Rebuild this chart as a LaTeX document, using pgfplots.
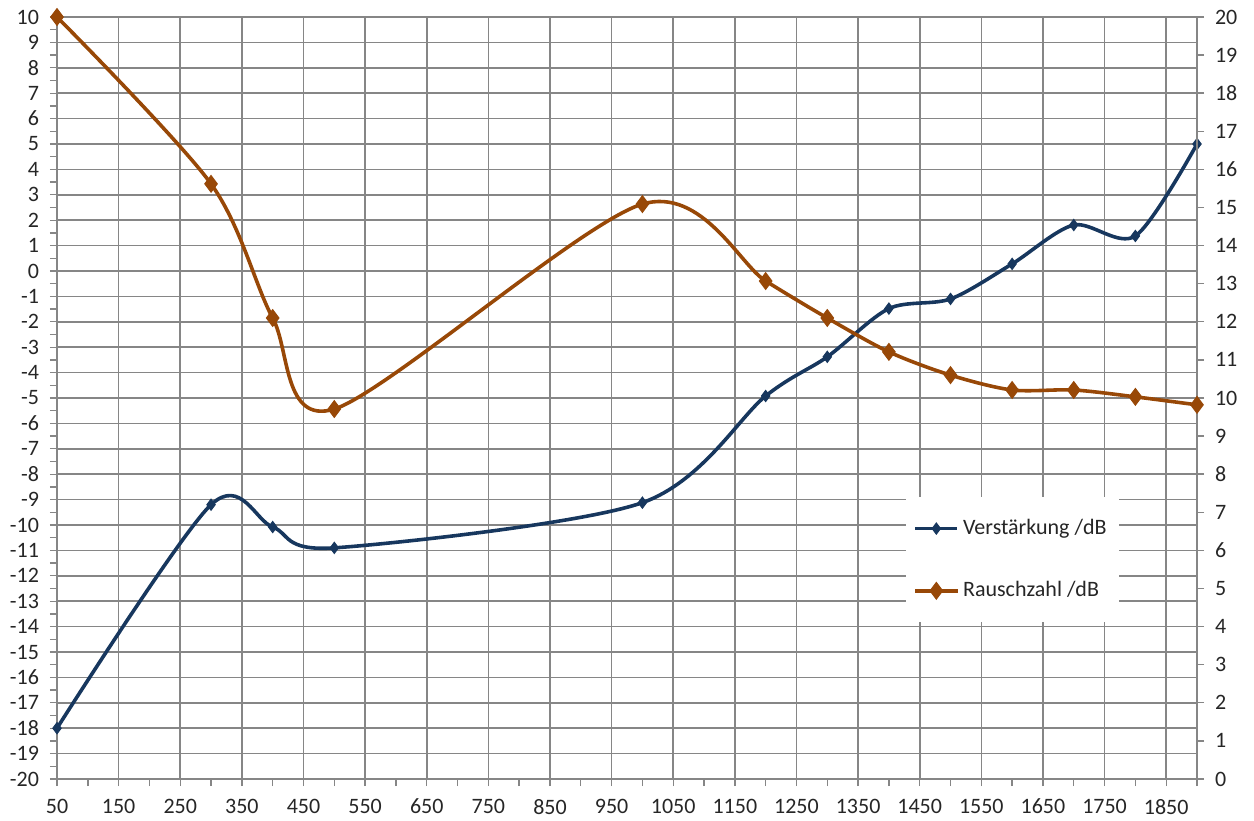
\documentclass[border=0pt]{standalone}
\usepackage{pgfplots}
\pgfplotsset{compat=1.18}
\usepackage{fontspec}
\setmainfont{Carlito}
\definecolor{navy}{HTML}{17375E}
\definecolor{rust}{HTML}{984807}
\definecolor{gridgray}{RGB}{134,134,134}
\begin{document}
\begin{tikzpicture}
\pgfplotsset{
  base/.style={
    scale only axis,
    width=570bp, height=381bp,
    xmin=50, xmax=1900,
    tick align=outside,
    major tick length=3.5bp,
    minor tick length=3.5bp,
    tick style={gridgray, line width=0.7pt},
    axis line style={gridgray, line width=0.8pt},
    ticklabel style={font=\fontsize{11bp}{13bp}\selectfont, text=black!85},
    /pgf/number format/assume math mode=true,
    /pgf/number format/1000 sep={},
    clip=false,
  },
}
% Verstaerkung, left axis
\begin{axis}[base, name=ax,
  axis x line*=bottom, axis y line*=left,
  ymin=-20, ymax=10,
  xtick={50,150,...,1850},
  minor xtick={100,200,...,1900},
  ytick={-20,-19,...,10},
  minor ytick={-19.5,-18.5,...,9.5},
  grid=major,
  major grid style={gridgray, line width=0.8pt},
  xticklabel style={yshift=-3bp},
  yticklabel style={xshift=-2bp},
]
\addplot[navy, line width=1.8pt, smooth, tension=0.5,
  mark=diamond*, mark size=2.8pt, mark options={solid, fill=navy, line width=0.5pt}]
  coordinates {(50,-18) (300,-9.2) (400,-10.08) (500,-10.9) (1000,-9.12)
    (1200,-4.92) (1300,-3.38) (1400,-1.48) (1500,-1.1) (1600,0.28)
    (1700,1.81) (1800,1.38) (1900,5.0)};
\end{axis}
% Rauschzahl, right axis
\begin{axis}[base,
  axis x line=none, axis y line*=right,
  ymin=0, ymax=20,
  ytick={0,1,...,20},
  yticklabel style={xshift=2bp},
  legend style={at={(rel axis cs:0.744,0.370)}, anchor=north west,
    draw=none, fill=white, inner xsep=4bp, inner ysep=9bp,
    row sep=18bp, font=\fontsize{11bp}{13bp}\selectfont,
    text=black!85},
  legend cell align=left,
  legend image code/.code={
    \draw[mark repeat=2, mark phase=2] plot coordinates {(0cm,0cm) (0.37cm,0cm) (0.74cm,0cm)};},
]
\addlegendimage{navy, line width=1.8pt, mark=diamond*, mark size=2.8pt, mark options={solid, fill=navy, line width=0.5pt}}
\addlegendentry{Verstärkung /dB}
\addplot[rust, line width=1.8pt, smooth, tension=0.5,
  mark=diamond*, mark size=4.2pt, mark options={solid, fill=rust, line width=0.5pt}]
  coordinates {(50,20) (300,15.62) (400,12.1) (500,9.71) (1000,15.09)
    (1200,13.07) (1300,12.1) (1400,11.21) (1500,10.6) (1600,10.21)
    (1700,10.21) (1800,10.03) (1900,9.82)};
\addlegendentry{Rauschzahl /dB}
\end{axis}
\pgfresetboundingbox
\path ([xshift=-28.5bp,yshift=-21bp]ax.south west) rectangle ([xshift=28.5bp,yshift=8.5bp]ax.north east);
\end{tikzpicture}
\end{document}
